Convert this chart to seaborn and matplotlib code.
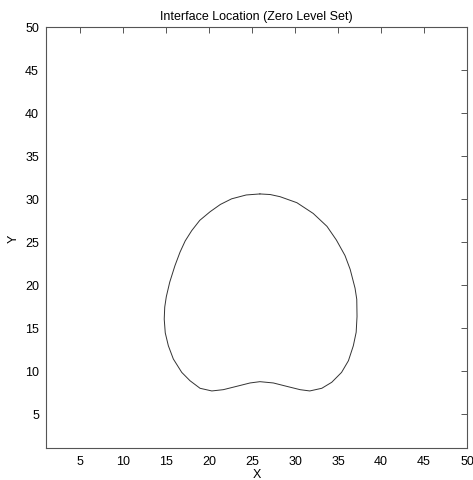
import matplotlib
matplotlib.use("Agg")
import matplotlib.pyplot as plt
import seaborn as sns
import pandas as pd

# Zero level set contour, traced clockwise from the top
contour_x = [25.9, 27.1, 28.24, 30.2, 32.1, 33.7, 34.8, 35.8, 36.4, 36.97, 37.17, 37.2,
             37.1, 36.77, 36.2, 35.4, 34.26, 33.1, 31.7, 30.57, 29.0, 27.46, 25.9,
             24.75, 23.2, 21.64, 20.3, 18.93, 17.76, 16.8, 15.82, 15.24, 14.88,
             14.76, 14.82, 15.0, 15.4, 16.0, 16.6, 17.2, 17.96, 18.9, 20.1, 21.3,
             22.6, 24.3, 25.9]
contour_y = [30.57, 30.5, 30.25, 29.55, 28.3, 26.8, 25.2, 23.4, 21.8, 19.6, 18.3, 16.3,
             14.47, 12.9, 11.16, 9.8, 8.65, 7.95, 7.64, 7.79, 8.18, 8.57, 8.72,
             8.57, 8.18, 7.79, 7.64, 7.95, 8.83, 9.8, 11.36, 12.9, 14.4,
             16.0, 17.4, 18.6, 20.3, 22.2, 23.8, 25.1, 26.3, 27.5, 28.5, 29.35,
             30.0, 30.45, 30.57]
tick_values = [5, 10, 15, 20, 25, 30, 35, 40, 45, 50]

df = pd.DataFrame({"X": contour_x, "Y": contour_y})

sns.set_theme(style="white")
plt.rcParams["font.family"] = ["Liberation Sans", "DejaVu Sans"]
plt.rcParams["text.color"] = "black"
plt.rcParams["axes.labelcolor"] = "black"

fig = plt.figure(figsize=(4.73, 4.81), dpi=100)
ax = fig.add_axes([46 / 473, 1 - 449 / 481, 421 / 473, 421 / 481])

sns.lineplot(data=df, x="X", y="Y", sort=False, estimator=None,
             color="#333333", linewidth=0.7, ax=ax)

ax.set_xlim(1, 50)
ax.set_ylim(1, 50)
ax.set_xticks(tick_values)
ax.set_yticks(tick_values)
ax.tick_params(direction="in", length=4, width=0.7, color="#555555",
               top=True, right=True, labelsize=9, pad=5, labelcolor="black")
for s in ax.spines.values():
    s.set_color("#555555")
    s.set_linewidth(0.8)

ax.set_title("Interface Location (Zero Level Set)", fontsize=9, pad=6, color="black")
ax.set_xlabel("X", fontsize=9, labelpad=1)
ax.set_ylabel("Y", fontsize=9, labelpad=4)

fig.savefig("out.png", dpi=100)
